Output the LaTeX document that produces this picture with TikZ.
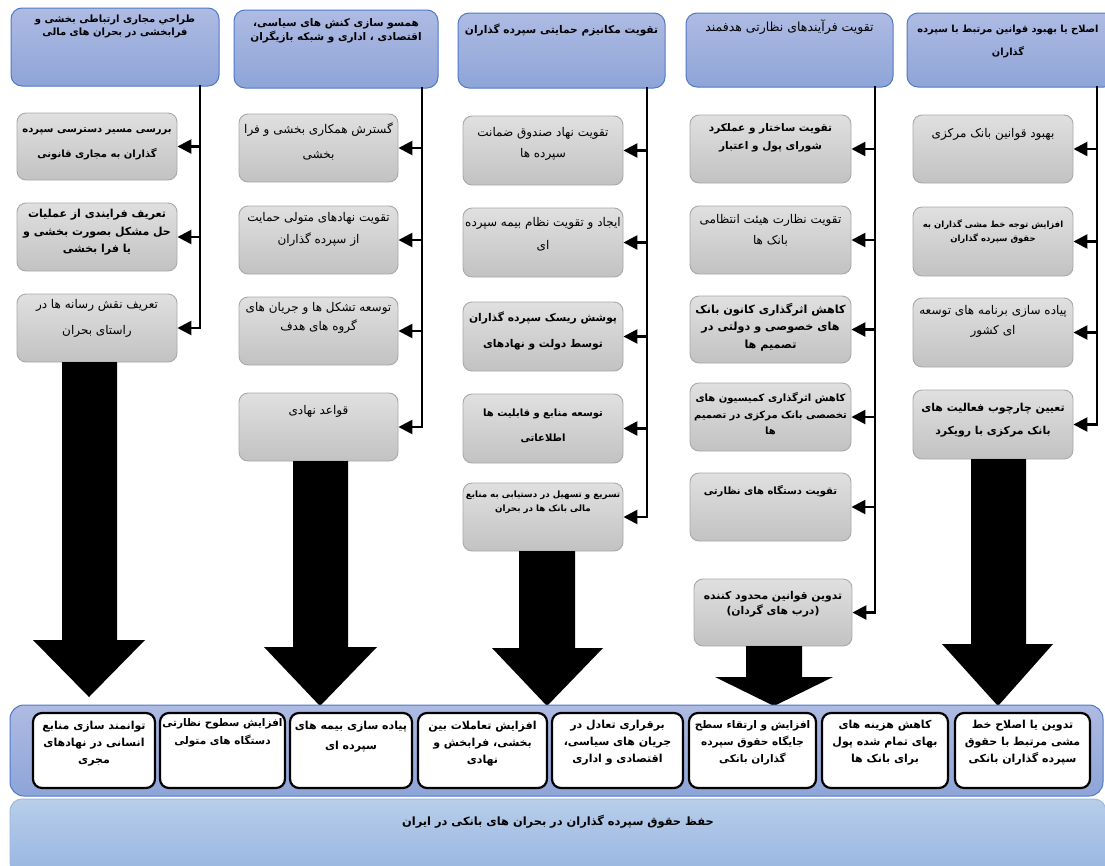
\documentclass[tikz,border=0pt]{standalone}
\usepackage{fontspec}
\usetikzlibrary{arrows.meta,fit,calc}
\TeXXeTstate=1
\newfontfamily\arabicfont[Script=Arabic]{DejaVu Sans}
\newcommand\fa[1]{\beginR #1\endR}
\definecolor{hdrtop}{HTML}{AEBBE3}
\definecolor{hdrbot}{HTML}{8EA4D8}
\definecolor{hdrline}{HTML}{4F79C6}
\definecolor{subtop}{HTML}{E0E0E0}
\definecolor{subbot}{HTML}{C2C2C2}
\definecolor{subline}{HTML}{A8A8A8}
\definecolor{goaltop}{HTML}{B8CEEA}
\definecolor{goalbot}{HTML}{97B5E0}
\definecolor{goalline}{HTML}{9DB9E2}
\begin{document}
\begin{tikzpicture}[x=1pt,y=-1pt,
 hdr/.style={draw=hdrline, line width=1pt, rounded corners=11pt, top color=hdrtop, bottom color=hdrbot, inner sep=0pt},
 sub/.style={draw=subline, line width=0.9pt, rounded corners=9pt, top color=subtop, bottom color=subbot, inner sep=0pt},
 res/.style={draw=black, line width=2.2pt, rounded corners=9pt, fill=white, inner sep=0pt},
 band/.style={draw=hdrline, line width=1pt, rounded corners=14pt, top color=hdrtop, bottom color=hdrbot, inner sep=0pt},
 goal/.style={draw=goalline, line width=1pt, rounded corners=12pt, top color=goaltop, bottom color=goalbot, inner sep=0pt},
 tn/.style n args={2}{align=center, inner sep=0pt, anchor=north, font=\arabicfont\fontsize{#1}{#2}\selectfont},
 tb/.style n args={2}{align=center, inner sep=0pt, anchor=north, font=\arabicfont\bfseries\fontsize{#1}{#2}\selectfont},
 trunk/.style={line width=2.6pt, line cap=rect},
 branch/.style={line width=2.6pt, -{Triangle[length=14pt,width=14pt]}},
 big/.style={fill=black},
]
\useasboundingbox (0,0) rectangle (1105,865);
\clip (0,0) rectangle (1105,865);
\fill[white] (0,0) rectangle (1105,865);

% ---------- headers
\node[hdr, fit={(11,8) (219,86)}] (h1) {};
\node[tb={10}{13}] (h1t) at ([yshift=-7pt]h1.north) {\fa{طراحي مجاری ارتباطی بخشی و}\\\fa{فرابخشی در بحران های مالی}};
\node[hdr, fit={(234,10) (438,88)}] (h2) {};
\node[tb={10.5}{14}] (h2t) at ([yshift=-9pt]h2.north) {\fa{همسو سازی کنش های سیاسی،}\\\fa{اقتصادی ، اداری و شبکه بازیگران}};
\node[hdr, fit={(458,13) (665,88)}] (h3) {};
\node[tb={10.6}{14}] (h3t) at ([yshift=-11pt]h3.north) {\fa{تقویت مکانیزم حمایتی سپرده گذاران}};
\node[hdr, fit={(686,13) (893,87)}] (h4) {};
\node[tn={12.5}{14}] (h4t) at ([yshift=-7.5pt]h4.north) {\fa{تقویت فرآیندهای نظارتی هدفمند}};
\node[hdr, fit={(907,13) (1115,87)}] (h5) {};
\node[tb={9.8}{23}] (h5t) at ([xshift=-3pt,yshift=-12pt]h5.north) {\fa{اصلاح یا بهبود قوانین مرتبط با سپرده}\\\fa{گذاران}};

% ---------- column 1
\node[sub, fit={(17,113) (177,180)}] (c1a) {};
\node[tb={10}{25}] (c1at) at ([yshift=-14.5pt]c1a.north) {\fa{بررسی مسیر دسترسی سپرده}\\\fa{گذاران به مجاری قانونی}};
\node[sub, fit={(17,203) (177,271)}] (c1b) {};
\node[tb={11}{17.5}] (c1bt) at ([yshift=-6.5pt]c1b.north) {\fa{تعریف فرایندی از عملیات}\\\fa{حل مشکل بصورت بخشی و}\\\fa{یا فرا بخشی}};
\node[sub, fit={(17,294) (177,362)}] (c1c) {};
\node[tn={12}{26}] (c1ct) at ([yshift=-5.5pt]c1c.north) {\fa{تعریف نقش رسانه ها در}\\\fa{راستای بحران}};

% ---------- column 2
\node[sub, fit={(239,114) (398,182)}] (c2a) {};
\node[tn={12}{25}] (c2at) at ([yshift=-8.8pt]c2a.north) {\fa{گسترش همکاری بخشی و فرا}\\\fa{بخشی}};
\node[sub, fit={(239,206) (398,274)}] (c2b) {};
\node[tn={12}{22}] (c2bt) at ([yshift=-7pt]c2b.north) {\fa{تقویت نهادهای متولی حمایت}\\\fa{از سپرده گذاران}};
\node[sub, fit={(239,297) (398,365)}] (c2c) {};
\node[tn={12}{19}] (c2ct) at ([yshift=-6pt]c2c.north) {\fa{توسعه تشکل ها و جریان های}\\\fa{گروه های هدف}};
\node[sub, fit={(239,393) (398,461)}] (c2d) {};
\node[tn={12}{19}] (c2dt) at ([yshift=-12.5pt]c2d.north) {\fa{قواعد نهادی}};

% ---------- column 3
\node[sub, fit={(463,116) (623,185)}] (c3a) {};
\node[tn={12}{21}] (c3at) at ([yshift=-11.5pt]c3a.north) {\fa{تقویت نهاد صندوق ضمانت}\\\fa{سپرده ها}};
\node[sub, fit={(463,208) (623,277)}] (c3b) {};
\node[tn={12}{23}] (c3bt) at ([yshift=-10pt]c3b.north) {\fa{ایجاد و تقویت نظام بیمه سپرده}\\\fa{ای}};
\node[sub, fit={(463,302) (623,371)}] (c3c) {};
\node[tb={10.7}{26}] (c3ct) at ([yshift=-10.5pt]c3c.north) {\fa{پوشش ریسک سپرده گذاران}\\\fa{توسط دولت و نهادهای}};
\node[sub, fit={(463,394) (623,463)}] (c3d) {};
\node[tb={10}{25}] (c3dt) at ([yshift=-15pt]c3d.north) {\fa{توسعه منابع و قابلیت ها}\\\fa{اطلاعاتی}};
\node[sub, fit={(463,483) (623,551)}] (c3e) {};
\node[tb={8.7}{14}] (c3et) at ([yshift=-8pt]c3e.north) {\fa{تسریع و تسهیل در دستیابی به منابع}\\\fa{مالی بانک ها در بحران}};

% ---------- column 4
\node[sub, fit={(690,115) (851,183)}] (c4a) {};
\node[tb={10.5}{18}] (c4at) at ([yshift=-8.7pt]c4a.north) {\fa{تقویت ساختار و عملکرد}\\\fa{شورای پول و اعتبار}};
\node[sub, fit={(690,206) (851,274)}] (c4b) {};
\node[tn={12}{21}] (c4bt) at ([yshift=-9pt]c4b.north) {\fa{تقویت نظارت هیئت انتظامی}\\\fa{بانک ها}};
\node[sub, fit={(690,296) (851,363)}] (c4c) {};
\node[tb={11.2}{17.5}] (c4ct) at ([yshift=-7.5pt]c4c.north) {\fa{کاهش اثرگذاری کانون بانک}\\\fa{های خصوصی و دولتی در}\\\fa{تصمیم ها}};
\node[sub, fit={(690,383) (851,451)}] (c4d) {};
\node[tb={10}{16.5}] (c4dt) at ([yshift=-10pt]c4d.north) {\fa{کاهش اثرگذاری کمیسیون های}\\\fa{تخصصی بانک مرکزی در تصمیم}\\\fa{ها}};
\node[sub, fit={(690,473) (851,541)}] (c4e) {};
\node[tb={10}{18}] (c4et) at ([yshift=-13pt]c4e.north) {\fa{تقویت دستگاه های نظارتی}};
\node[sub, fit={(694,579) (852,646)}] (c4f) {};
\node[tb={10.8}{15}] (c4ft) at ([yshift=-12.5pt]c4f.north) {\fa{تدوین قوانین محدود کننده}\\\fa{(درب های گردان)}};

% ---------- column 5
\node[sub, fit={(913,115) (1073,183)}] (c5a) {};
\node[tn={12}{18}] (c5at) at ([yshift=-13.5pt]c5a.north) {\fa{بهبود قوانین بانک مرکزی}};
\node[sub, fit={(913,207) (1073,276)}] (c5b) {};
\node[tb={8.5}{14}] (c5bt) at ([yshift=-13pt]c5b.north) {\fa{افزایش توجه خط مشی گذاران به}\\\fa{حقوق سپرده گذاران}};
\node[sub, fit={(913,298) (1073,367)}] (c5c) {};
\node[tn={12}{20}] (c5ct) at ([yshift=-8pt]c5c.north) {\fa{پیاده سازی برنامه های توسعه}\\\fa{ای کشور}};
\node[sub, fit={(913,390) (1073,459)}] (c5d) {};
\node[tb={10.9}{23}] (c5dt) at ([yshift=-13.5pt]c5d.north) {\fa{تعیین چارچوب فعالیت های}\\\fa{بانک مرکزی با رویکرد}};

% ---------- trunks and branches
\coordinate (v1) at (200,0);
\coordinate (v2) at (422,0);
\coordinate (v3) at (647,0);
\coordinate (v4) at (875,0);
\coordinate (v5) at (1097,0);
\draw[trunk] (h1.south -| v1) -- (c1c.east -| v1);
\draw[trunk] (h2.south -| v2) -- (c2d.east -| v2);
\draw[trunk] (h3.south -| v3) -- (c3e.east -| v3);
\draw[trunk] (h4.south -| v4) -- (c4f.east -| v4);
\draw[trunk] (h5.south -| v5) -- (c5d.east -| v5);
\foreach \c in {c1a,c1b,c1c}{\draw[branch] (\c.east -| v1) -- (\c.east);}
\foreach \c in {c2a,c2b,c2c,c2d}{\draw[branch] (\c.east -| v2) -- (\c.east);}
\foreach \c in {c3a,c3b,c3c,c3d,c3e}{\draw[branch] (\c.east -| v3) -- (\c.east);}
\foreach \c in {c4a,c4b,c4c,c4d,c4e,c4f}{\draw[branch] (\c.east -| v4) -- (\c.east);}
\foreach \c in {c5a,c5b,c5c,c5d}{\draw[branch] (\c.east -| v5) -- (\c.east);}

% ---------- block arrows
\fill[big] (62,362) -- (117,362) -- (117,640) -- (145,640) -- (89,697) -- (33,640) -- (62,640) -- cycle;
\fill[big] (293,461) -- (348,461) -- (348,647) -- (377,647) -- (320,706) -- (264,647) -- (293,647) -- cycle;
\fill[big] (519,551) -- (575,551) -- (575,648) -- (603,648) -- (547,706) -- (492,648) -- (519,648) -- cycle;
\fill[big] (746,646) -- (802,646) -- (802,677) -- (833,677) -- (774,706) -- (715,677) -- (746,677) -- cycle;
\fill[big] (971,459) -- (1026,459) -- (1026,644) -- (1053,644) -- (998,706) -- (942,644) -- (971,644) -- cycle;

% ---------- results band
\node[band, fit={(10,705) (1103,796)}] (band) {};
\node[res, fit={(33,713) (155,788)}] (b1) {};
\node[tb={11}{17}] (b1t) at ([yshift=-9pt]b1.north) {\fa{توانمند سازی منابع}\\\fa{انسانی در نهادهای}\\\fa{مجری}};
\node[res, fit={(160,713) (285,788)}] (b2) {};
\node[tb={10.5}{18}] (b2t) at ([yshift=-6pt]b2.north) {\fa{افزایش سطوح نظارتی}\\\fa{دستگاه های متولی}};
\node[res, fit={(290,713) (412,788)}] (b3) {};
\node[tb={11}{20}] (b3t) at ([yshift=-9pt]b3.north) {\fa{پیاده سازی بیمه های}\\\fa{سپرده ای}};
\node[res, fit={(418,713) (547,788)}] (b4) {};
\node[tb={11}{17}] (b4t) at ([yshift=-9pt]b4.north) {\fa{افزایش تعاملات بین}\\\fa{بخشی، فرابخش و}\\\fa{نهادی}};
\node[res, fit={(552,713) (683,788)}] (b5) {};
\node[tb={11}{17}] (b5t) at ([yshift=-8pt]b5.north) {\fa{برقراری تعادل در}\\\fa{جریان های سیاسی،}\\\fa{اقتصادی و اداری}};
\node[res, fit={(689,713) (816,788)}] (b6) {};
\node[tb={10.5}{17}] (b6t) at ([yshift=-8pt]b6.north) {\fa{افزایش و ارتقاء سطح}\\\fa{جایگاه حقوق سپرده}\\\fa{گذاران بانکی}};
\node[res, fit={(822,713) (948,788)}] (b7) {};
\node[tb={11}{17}] (b7t) at ([yshift=-8pt]b7.north) {\fa{کاهش هزینه های}\\\fa{بهای تمام شده پول}\\\fa{برای بانک ها}};
\node[res, fit={(955,713) (1090,788)}] (b8) {};
\node[tb={11}{17}] (b8t) at ([yshift=-8pt]b8.north) {\fa{تدوین یا اصلاح خط}\\\fa{مشی مرتبط با حقوق}\\\fa{سپرده گذاران بانکی}};

% ---------- goal
\node[goal, fit={(10,799) (1106,875)}] (goal) {};
\node[tb={11.4}{14}] (goalt) at (558,815) {\fa{حفظ حقوق سپرده گذاران در بحران های بانکی در ایران}};
\end{tikzpicture}
\end{document}
